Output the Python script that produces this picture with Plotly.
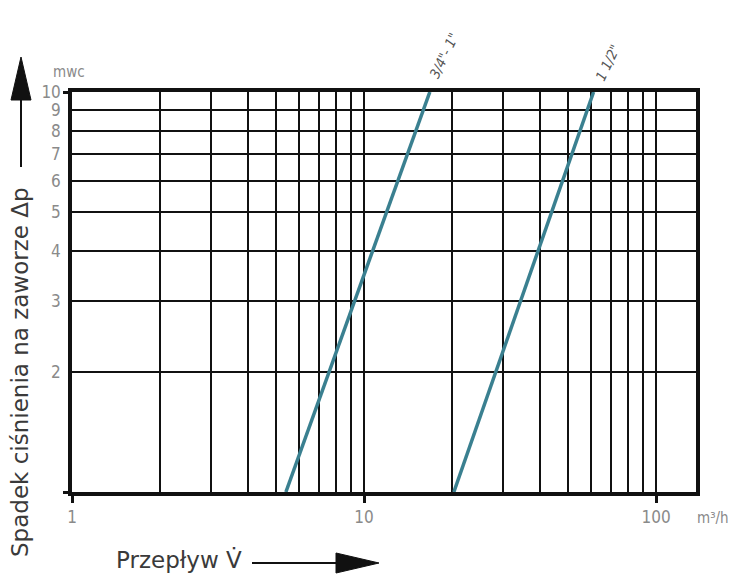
import math
import plotly.graph_objects as go

# ---- data ----
series_names = ['3/4"- 1"', '1 1/2"']
flow_34_1 = [5.4, 16.8]          # m3/h
dp_34_1 = [1.0, 10.0]            # mwc
flow_112 = [20.3, 61.1]          # m3/h
dp_112 = [1.0, 10.0]             # mwc

x_grid = [1, 2, 3, 4, 5, 6, 7, 8, 9, 10, 20, 30, 40, 50, 60, 70, 80, 90, 100]
x_ticks = [1, 10, 100]
x_ticktext = ["1", "10", "100"]
y_grid = [2, 3, 4, 5, 6, 7, 8, 9, 10]
y_ticktext = ["2", "3", "4", "5", "6", "7", "8", "9", "10"]
y_marks = [1, 10]

x_range = [0, math.log10(137)]
y_range = [0, 1]

LINE_COLOR = "#3a8090"
NARROW = "Liberation Sans Narrow, DejaVu Sans Condensed, Arial Narrow, sans-serif"
TITLE_FONT = "DejaVu Sans, sans-serif"

# page offset (default body margin of the html page)
OFF = 8
FIG_W, FIG_H = 736 - OFF, 580 - OFF
# plot area in page pixels
L, R, T, B = 72, 696, 92, 492
W, H = R - L, B - T
def px(xp):
    return (xp - L) / W
def py(yp):
    return (B - yp) / H

fig = go.Figure()
fig.add_trace(go.Scatter(x=flow_34_1, y=dp_34_1, mode="lines", name=series_names[0],
                         line=dict(color=LINE_COLOR, width=3.5), hoverinfo="skip"))
fig.add_trace(go.Scatter(x=flow_112, y=dp_112, mode="lines", name=series_names[1],
                         line=dict(color=LINE_COLOR, width=3.5), hoverinfo="skip"))
# invisible trace for the overlay axes (tick marks + labels)
fig.add_trace(go.Scatter(x=[1], y=[1], xaxis="x2", yaxis="y2", mode="markers",
                         marker=dict(opacity=0), hoverinfo="skip", showlegend=False))

fig.update_layout(
    width=FIG_W, height=FIG_H,
    margin=dict(l=L - OFF, r=FIG_W - (R - OFF), t=T - OFF, b=FIG_H - (B - OFF), autoexpand=False),
    paper_bgcolor="white", plot_bgcolor="white",
    showlegend=False,
    xaxis=dict(type="log", range=x_range, tickvals=x_grid, showticklabels=False,
               ticks="", showgrid=True, gridcolor="#111111", gridwidth=1.6,
               showline=True, linecolor="#111111", linewidth=3.5, mirror=True,
               zeroline=False),
    yaxis=dict(type="log", range=y_range, tickvals=y_grid, ticktext=y_ticktext,
               ticks="", showgrid=True, gridcolor="#111111", gridwidth=1.6,
               showline=True, linecolor="#111111", linewidth=3.5, mirror=True,
               tickfont=dict(family=NARROW, size=17, color="#8a8a8a"),
               ticklabelstandoff=4, zeroline=False),
    xaxis2=dict(type="log", range=x_range, overlaying="x", side="bottom",
                tickvals=x_ticks, ticktext=x_ticktext, ticks="outside", ticklen=10,
                tickwidth=2.5, tickcolor="#111111", showgrid=False, showline=False,
                tickfont=dict(family=NARROW, size=17, color="#8a8a8a"),
                zeroline=False),
    yaxis2=dict(type="log", range=y_range, overlaying="y", side="left",
                tickvals=y_marks, ticks="outside", ticklen=8, tickwidth=2.5,
                tickcolor="#111111", showticklabels=False, showgrid=False,
                showline=False, zeroline=False),
)

annotations = [
    dict(text=series_names[0], x=math.log10(flow_34_1[1]), y=math.log10(dp_34_1[1]),
         xref="x", yref="y", showarrow=False, textangle=-64, xshift=14, yshift=36,
         xanchor="center", yanchor="middle",
         font=dict(family=NARROW, size=14, color="#555555", style="italic")),
    dict(text=series_names[1], x=math.log10(flow_112[1]), y=math.log10(dp_112[1]),
         xref="x", yref="y", showarrow=False, textangle=-64, xshift=14, yshift=29,
         xanchor="center", yanchor="middle",
         font=dict(family=NARROW, size=14, color="#555555", style="italic")),
    dict(text="mwc", x=px(69), y=py(72), xref="paper", yref="paper", showarrow=False,
         xanchor="center", yanchor="middle",
         font=dict(family=NARROW, size=15, color="#8a8a8a")),
    dict(text="m³/h", x=px(713), y=py(518), xref="paper", yref="paper", showarrow=False,
         xanchor="center", yanchor="middle",
         font=dict(family=NARROW, size=15, color="#8a8a8a")),
    dict(text="Spadek ciśnienia na zaworze Δp", x=px(20), y=py(372), xref="paper",
         yref="paper", showarrow=False, textangle=-90, xanchor="center", yanchor="middle",
         font=dict(family=TITLE_FONT, size=23, color="#3a3a3a")),
    dict(text="Przepływ V̇", x=px(244), y=py(560), xref="paper", yref="paper",
         showarrow=False, xanchor="right", yanchor="middle",
         font=dict(family=TITLE_FONT, size=23, color="#3a3a3a")),
]
fig.update_layout(annotations=annotations)

shapes = [
    # vertical arrow
    dict(type="line", xref="paper", yref="paper", x0=px(21), x1=px(21), y0=py(167), y1=py(96),
         line=dict(color="#111111", width=2)),
    dict(type="path", xref="paper", yref="paper",
         path=f"M {px(21)},{py(57)} L {px(11)},{py(100)} L {px(31)},{py(100)} Z",
         fillcolor="#111111", line=dict(color="#111111", width=1)),
    # horizontal arrow
    dict(type="line", xref="paper", yref="paper", x0=px(252), x1=px(340), y0=py(563), y1=py(563),
         line=dict(color="#111111", width=2)),
    dict(type="path", xref="paper", yref="paper",
         path=f"M {px(379)},{py(563)} L {px(336)},{py(553)} L {px(336)},{py(573)} Z",
         fillcolor="#111111", line=dict(color="#111111", width=1)),
]
fig.update_layout(shapes=shapes)

fig.write_html("out.html")
